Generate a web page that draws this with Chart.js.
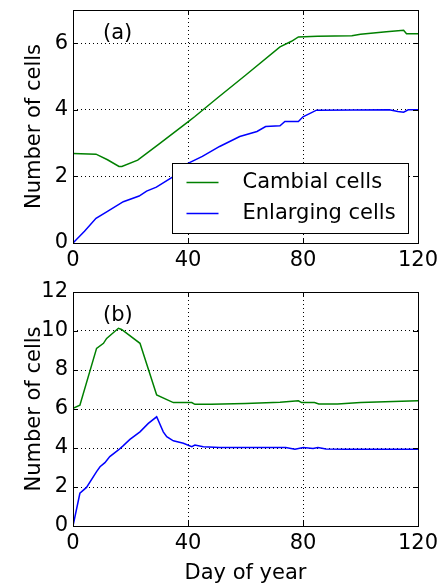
<!DOCTYPE html>
<html>
<head>
<meta charset="utf-8">
<script src="https://cdn.jsdelivr.net/npm/chart.js@4.4.1/dist/chart.umd.min.js"></script>
<style>
  html, body { margin: 0; padding: 0; background: #fff; }
  #wrap { position: relative; width: 440px; height: 586px; }
  canvas { position: absolute; left: 0; }
  #chartA { top: 0; }
  #chartB { top: 280px; }
</style>
</head>
<body>
<div id="wrap">
  <canvas id="chartA" width="440" height="270"></canvas>
  <canvas id="chartB" width="440" height="306"></canvas>
</div>
<script>
// panel (a)
const aCambialDays = [0, 8, 12, 16, 17, 22.5, 30, 40, 42.4, 50, 60, 72, 76, 78.4, 85, 97, 100, 109, 115, 116, 120];
const aCambialCells = [2.69, 2.67, 2.5, 2.3, 2.3, 2.49, 2.98, 3.64, 3.8, 4.34, 5.04, 5.89, 6.06, 6.19, 6.21, 6.23, 6.27, 6.35, 6.39, 6.29, 6.29];
const aEnlargingDays = [0, 4, 8, 12, 17.5, 23, 25.6, 29, 35, 40, 45, 51, 58, 64, 67, 72, 73.7, 78.4, 80, 84.7, 110, 113, 115, 116.6, 120];
const aEnlargingCells = [0, 0.35, 0.74, 0.95, 1.24, 1.41, 1.56, 1.68, 2.0, 2.39, 2.6, 2.9, 3.2, 3.35, 3.5, 3.52, 3.65, 3.65, 3.79, 3.99, 4.0, 3.95, 3.93, 4.0, 4.0];

// panel (b)
const bCambialDays = [0, 2.4, 8.2, 10.6, 11.7, 15.8, 16.9, 23.3, 29.1, 34.9, 41.3, 42.4, 48, 60, 72, 78.4, 79.5, 84, 85.5, 92, 100, 120];
const bCambialCells = [6.03, 6.2, 9.11, 9.37, 9.62, 10.14, 10.08, 9.37, 6.72, 6.33, 6.33, 6.24, 6.24, 6.28, 6.34, 6.42, 6.33, 6.33, 6.26, 6.26, 6.33, 6.42];
const bEnlargingDays = [0, 2.4, 4.7, 8.2, 9.4, 11.1, 12.8, 15.8, 17.5, 19.8, 23.3, 26.2, 29.1, 31.4, 32.6, 34.9, 38.4, 41.3, 42.4, 45.3, 51, 74, 77.2, 80.1, 83.5, 85.2, 88, 95, 120];
const bEnlargingCells = [0, 1.68, 1.98, 2.79, 3.04, 3.25, 3.56, 3.9, 4.12, 4.44, 4.83, 5.26, 5.6, 4.83, 4.58, 4.37, 4.24, 4.07, 4.15, 4.07, 4.02, 4.02, 3.94, 4.03, 3.97, 4.03, 3.95, 3.93, 3.93];

const seriesNames = ['Cambial cells', 'Enlarging cells'];
const seriesColors = ['#008000', '#0000ff'];
const dayTicks = [0, 40, 80, 120];

Chart.defaults.font.family = '"DejaVu Sans", sans-serif';
Chart.defaults.font.size = 21;
Chart.defaults.color = '#000';

const toPoints = (days, vals) => days.map((d, i) => ({x: d, y: vals[i]}));

// box around the axes, inward ticks, panel letter and the legend box
const framePlugin = {
	id: 'frame',
	afterDatasetsDraw(chart, args, opts) {
		const {ctx, chartArea: a, scales: {x, y}} = chart;
		ctx.save();
		ctx.strokeStyle = '#000';
		ctx.lineWidth = 1;
		ctx.beginPath();
		x.ticks.forEach(t => {
			const px = Math.round(x.getPixelForValue(t.value)) + 0.5;
			ctx.moveTo(px, a.bottom); ctx.lineTo(px, a.bottom - 5);
			ctx.moveTo(px, a.top); ctx.lineTo(px, a.top + 5);
		});
		y.ticks.forEach(t => {
			const py = Math.round(y.getPixelForValue(t.value)) + 0.5;
			ctx.moveTo(a.left, py); ctx.lineTo(a.left + 5, py);
			ctx.moveTo(a.right, py); ctx.lineTo(a.right - 5, py);
		});
		ctx.stroke();
		ctx.strokeRect(Math.round(a.left) + 0.5, Math.round(a.top) + 0.5, Math.round(a.width), Math.round(a.height));

		ctx.font = Chart.helpers.toFont(Chart.defaults.font).string;
		ctx.fillStyle = '#000';
		ctx.textBaseline = 'middle';
		ctx.fillText(opts.label, a.left + 30, a.top + 24);

		if (opts.legend) {
			const w = 236, h = 70;
			const bx = Math.round(a.right - 10 - w) + 0.5, by = Math.round(a.bottom - 10 - h) + 0.5;
			ctx.fillStyle = '#fff';
			ctx.fillRect(bx, by, w, h);
			ctx.strokeRect(bx, by, w, h);
			chart.data.datasets.forEach((ds, i) => {
				const ry = by + 19 + i * 31;
				ctx.strokeStyle = ds.borderColor;
				ctx.lineWidth = 1.5;
				ctx.beginPath();
				ctx.moveTo(bx + 14, ry); ctx.lineTo(bx + 46, ry);
				ctx.stroke();
				ctx.fillStyle = '#000';
				ctx.fillText(ds.label, bx + 70, ry);
			});
		}
		ctx.restore();
	}
};

function makeChart(id, sets, yMax, pad, xHeight, xTitle, label, legend) {
	return new Chart(document.getElementById(id), {
		type: 'line',
		data: {
			datasets: sets.map((s, i) => ({
				label: seriesNames[i],
				data: toPoints(s[0], s[1]),
				borderColor: seriesColors[i],
				borderWidth: 1.5,
				pointRadius: 0,
				tension: 0,
				fill: false
			}))
		},
		options: {
			responsive: false,
			animation: false,
			layout: {padding: pad},
			plugins: {
				legend: {display: false},
				tooltip: {enabled: false},
				frame: {label, legend}
			},
			scales: {
				x: {
					type: 'linear',
					min: 0,
					max: 120,
					afterBuildTicks: s => { s.ticks = dayTicks.map(v => ({value: v})); },
					afterFit: s => { s.height = xHeight; s.paddingLeft = 0; s.paddingRight = 0; },
					ticks: {padding: 5, maxRotation: 0},
					grid: {color: '#000', lineWidth: 1, drawTicks: false},
					border: {display: false, dash: [1, 3]},
					title: {display: !!xTitle, text: xTitle, padding: {top: 4, bottom: 0}}
				},
				y: {
					min: 0,
					max: yMax,
					afterFit: s => { s.width = 73; s.paddingTop = 0; s.paddingBottom = 0; },
					ticks: {stepSize: 2, includeBounds: false, padding: 5},
					grid: {color: '#000', lineWidth: 1, drawTicks: false},
					border: {display: false, dash: [1, 3]},
					title: {display: true, text: 'Number of cells', padding: {top: 22, bottom: 0}}
				}
			}
		},
		plugins: [framePlugin]
	});
}

makeChart('chartA', [[aCambialDays, aCambialCells], [aEnlargingDays, aEnlargingCells]],
	7, {top: 10, right: 22, left: 0, bottom: 0}, 27, '', '(a)', true);
makeChart('chartB', [[bCambialDays, bCambialCells], [bEnlargingDays, bEnlargingCells]],
	12, {top: 12, right: 22, left: 0, bottom: 0}, 60, 'Day of year', '(b)', false);
</script>
</body>
</html>
